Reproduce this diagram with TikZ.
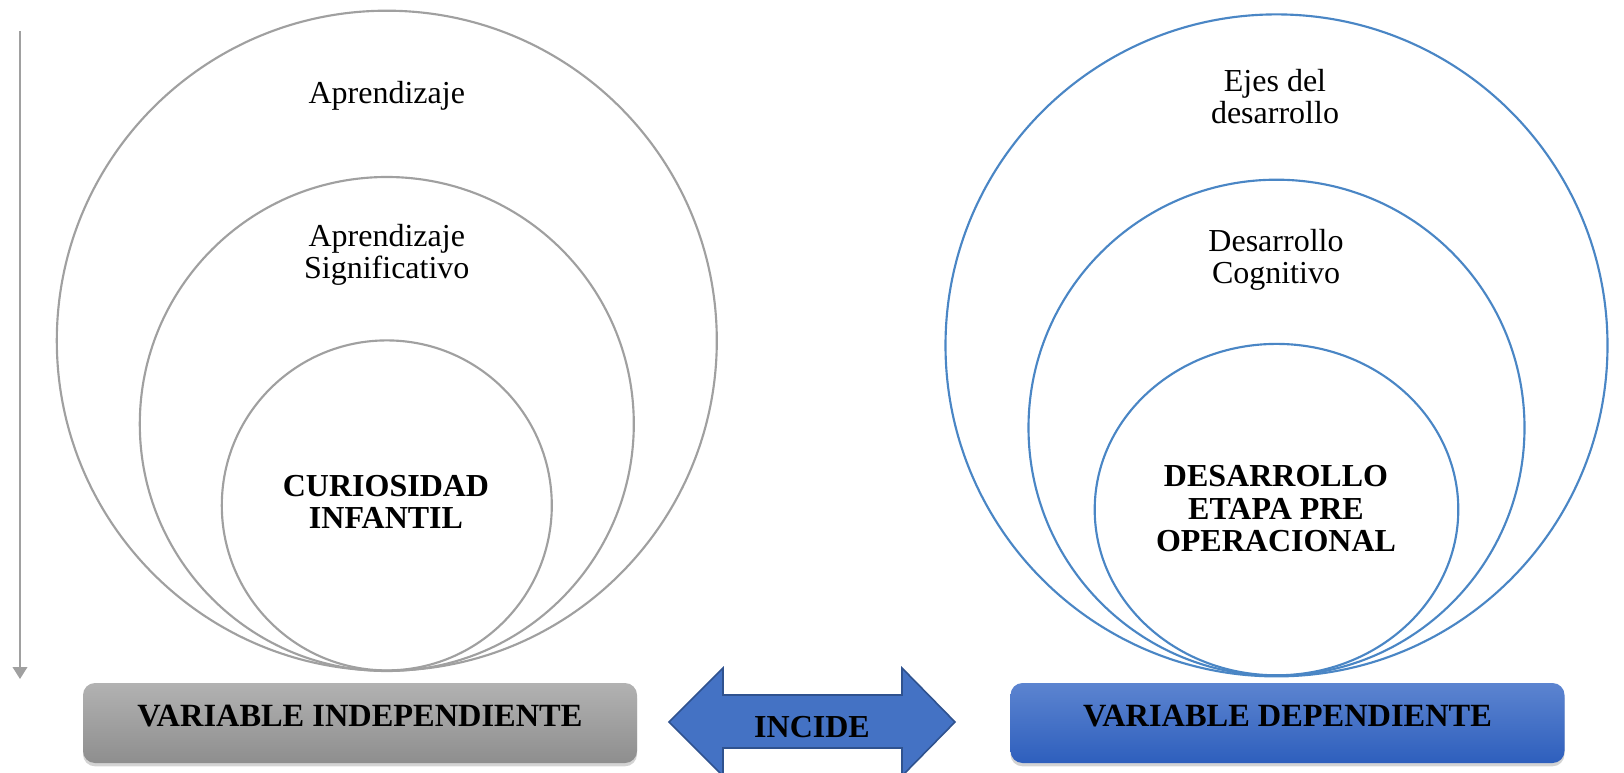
\documentclass[tikz,border=0pt]{standalone}
\usepackage{fontspec}
\setmainfont{Liberation Serif}
\usetikzlibrary{arrows.meta,shadows}
\definecolor{graycirc}{RGB}{160,160,160}
\definecolor{bluecirc}{RGB}{74,134,197}
\definecolor{arrowfill}{RGB}{68,114,196}
\definecolor{arrowdraw}{RGB}{47,82,143}
\definecolor{gtop}{RGB}{178,178,178}
\definecolor{gbot}{RGB}{142,142,142}
\definecolor{btop}{RGB}{92,132,208}
\definecolor{bbot}{RGB}{46,95,189}
\begin{document}
\begin{tikzpicture}[x=0.75pt,y=-0.75pt,
  lbl/.style={font=\fontsize{24}{24.4}\selectfont, align=center, inner sep=0pt},
  blbl/.style={lbl, font=\fontsize{24}{24.4}\selectfont\bfseries},
  boxlbl/.style={lbl, font=\fontsize{24.3}{24.4}\selectfont\bfseries},
  gcirc/.style={draw=graycirc, line width=1.6pt},
  bcirc/.style={draw=bluecirc, line width=1.6pt},
  varbox/.style={rounded corners=9pt, inner sep=0pt, minimum width=415.5pt, minimum height=60pt,
    drop shadow={shadow xshift=0pt, shadow yshift=-2.5pt, opacity=0.35}},
]
\useasboundingbox (0,0) rectangle (1624,773);

% left vertical arrow
\coordinate (vtop) at (20,31);
\coordinate (vbot) at (20,679);
\draw[graycirc, line width=1.2pt, -{Triangle[width=11pt,length=9pt]}] (vtop) -- (vbot);

% left circles
\draw[gcirc] (386.8,340.7) circle [radius=330];
\draw[gcirc] (386.8,424) circle [radius=247];
\draw[gcirc] (386.8,505.4) circle [radius=165];

% right circles
\draw[bcirc] (1276.5,345.4) circle [radius=331];
\draw[bcirc] (1276.5,427.7) circle [radius=248];
\draw[bcirc] (1276.5,509.6) ellipse [x radius=181.8, y radius=165.7];

% texts
\node[lbl] (apr) at (386.8,95.5) {Aprendizaje};
\node[lbl] (aprs) at (386.8,255) {Aprendizaje\\Significativo};
\node[blbl] (cur) at (386,502) {CURIOSIDAD\\INFANTIL};
\node[lbl] (ejes) at (1275,96.5) {Ejes del\\desarrollo};
\node[lbl] (desc) at (1276,260) {Desarrollo\\Cognitivo};
\node[blbl] (dese) at (1276,509) {DESARROLLO\\ETAPA PRE\\OPERACIONAL};

% boxes
\node[varbox, top color=gtop, bottom color=gbot] (vibox) at (360,723) {};
\node[boxlbl] (vi) at (360,716) {VARIABLE INDEPENDIENTE};
\node[varbox, top color=btop, bottom color=bbot] (vdbox) at (1287.5,723) {};
\node[boxlbl] (vd) at (1287.5,716) {VARIABLE DEPENDIENTE};

% double arrow
\draw[fill=arrowfill, draw=arrowdraw, line width=1.2pt, line join=miter]
  (669,722) -- (723,668) -- (723,695) -- (902,695) -- (902,668) -- (955,722)
  -- (902,776) -- (902,748) -- (723,748) -- (723,776) -- cycle;
\node[blbl] (inc) at (812,727.5) {INCIDE};
\end{tikzpicture}
\end{document}
